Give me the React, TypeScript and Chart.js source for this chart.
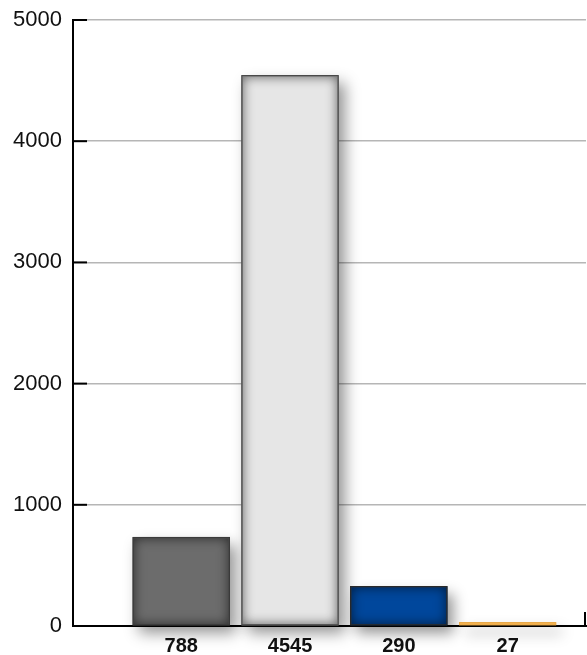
import React, { useEffect, useRef } from 'react';
import { Chart, registerables } from 'chart.js';

Chart.register(...registerables);

// ---- data ----
const categories = ['788', '4545', '290', '27'];
const barValues = [733, 4543, 328, 30];
const yTickValues = [0, 1000, 2000, 3000, 4000, 5000];

// ---- styles ----
const FILL = ['#6c6c6c', '#e6e6e6', '#00479c', '#f2b150'];
const BORDER = ['#3a3a3a', '#4a4a4a', '#2a2a2a', '#e8a848'];

function barRect(el: any) {
  const { x, y, base, width } = el.getProps(['x', 'y', 'base', 'width'], true);
  const left = x - width / 2;
  const top = Math.min(y, base);
  const h = Math.abs(base - y);
  return { left, top, width, h };
}

const shadowPlugin = {
  id: 'barShadow',
  beforeDatasetsDraw(chart: any) {
    const ctx = chart.ctx;
    const meta = chart.getDatasetMeta(0);
    meta.data.forEach((el: any, i: number) => {
      const { left, top, width, h } = barRect(el);
      ctx.save();
      ctx.shadowColor = 'rgba(0,0,0,0.42)';
      ctx.shadowBlur = 14;
      ctx.shadowOffsetX = 6;
      ctx.shadowOffsetY = 8;
      ctx.fillStyle = FILL[i];
      ctx.fillRect(left, top, width, h);
      ctx.restore();
    });
  },
};

const innerShadowPlugin = {
  id: 'innerShadow',
  afterDatasetsDraw(chart: any) {
    const ctx = chart.ctx;
    const meta = chart.getDatasetMeta(0);
    meta.data.forEach((el: any, i: number) => {
      const { left, top, width, h } = barRect(el);
      if (h < 8) return;
      ctx.save();
      ctx.beginPath();
      ctx.rect(left + 1, top + 1, width - 2, h - 2);
      ctx.clip();
      ctx.beginPath();
      ctx.rect(left - 60, top - 60, width + 120, h + 120);
      ctx.rect(left + 1, top + 1, width - 2, h - 2);
      ctx.shadowColor = 'rgba(0,0,0,0.6)';
      ctx.shadowBlur = 12;
      ctx.fillStyle = BORDER[i];
      ctx.fill('evenodd');
      ctx.restore();
      ctx.save();
      ctx.strokeStyle = BORDER[i];
      ctx.lineWidth = 1;
      ctx.strokeRect(left + 0.5, top + 0.5, width - 1, h - 1);
      ctx.restore();
    });
  },
};

const axisDecorPlugin = {
  id: 'axisDecor',
  afterDraw(chart: any) {
    const ctx = chart.ctx;
    const y = chart.scales.y;
    const area = chart.chartArea;
    ctx.save();
    ctx.strokeStyle = '#000';
    ctx.lineWidth = 2;
    yTickValues.forEach((v) => {
      const py = y.getPixelForValue(v);
      ctx.beginPath();
      ctx.moveTo(area.left, py);
      ctx.lineTo(area.left + 14, py);
      ctx.stroke();
    });
    ctx.beginPath();
    ctx.moveTo(area.right - 1, area.bottom);
    ctx.lineTo(area.right - 1, area.bottom - 14);
    ctx.stroke();
    ctx.restore();
  },
};

export default function App() {
  const ref = useRef<HTMLCanvasElement>(null);

  useEffect(() => {
    document.body.style.margin = '0';
    const chart = new Chart(ref.current!, {
      type: 'bar',
      data: {
        datasets: [
          {
            data: barValues.map((v, i) => ({ x: i, y: v })),
            backgroundColor: FILL,
            borderColor: BORDER,
            borderWidth: 1,
            borderSkipped: false,
            barThickness: 97,
          },
        ],
      },
      options: {
        animation: false,
        responsive: false,
        layout: { padding: { top: 20, right: 1, left: 0, bottom: 0 } },
        plugins: { legend: { display: false }, tooltip: { enabled: false } },
        scales: {
          x: {
            type: 'linear',
            min: -0.9945,
            max: 3.72,
            offset: false,
            grid: { display: false, drawTicks: false },
            border: { display: true, color: '#000', width: 2 },
            afterBuildTicks: (scale: any) => {
              scale.ticks = categories.map((_, i) => ({ value: i }));
            },
            afterFit: (scale: any) => {
              scale.height = 29;
              scale.paddingLeft = 0;
              scale.paddingRight = 0;
            },
            ticks: {
              autoSkip: false,
              maxRotation: 0,
              padding: 8,
              color: '#111',
              font: { family: 'Liberation Sans, Arial, sans-serif', size: 20, weight: 'bold' },
              callback: (value: any) => categories[value as number] ?? '',
            },
          },
          y: {
            min: 0,
            max: 5000,
            afterBuildTicks: (scale: any) => {
              scale.ticks = yTickValues.map((v) => ({ value: v }));
            },
            afterFit: (scale: any) => {
              scale.width = 73;
              scale.paddingTop = 0;
              scale.paddingBottom = 0;
            },
            grid: { color: '#b6b6b6', lineWidth: 1.5, drawTicks: false },
            border: { display: true, color: '#000', width: 2 },
            ticks: {
              padding: 11,
              color: '#111',
              font: { family: 'Liberation Sans, Arial, sans-serif', size: 22 },
              callback: (value: any) => String(value),
            },
          },
        },
      },
      plugins: [shadowPlugin, innerShadowPlugin, axisDecorPlugin],
    } as any);
    return () => chart.destroy();
  }, []);

  return <canvas ref={ref} width={587} height={655} style={{ display: 'block' }} />;
}
